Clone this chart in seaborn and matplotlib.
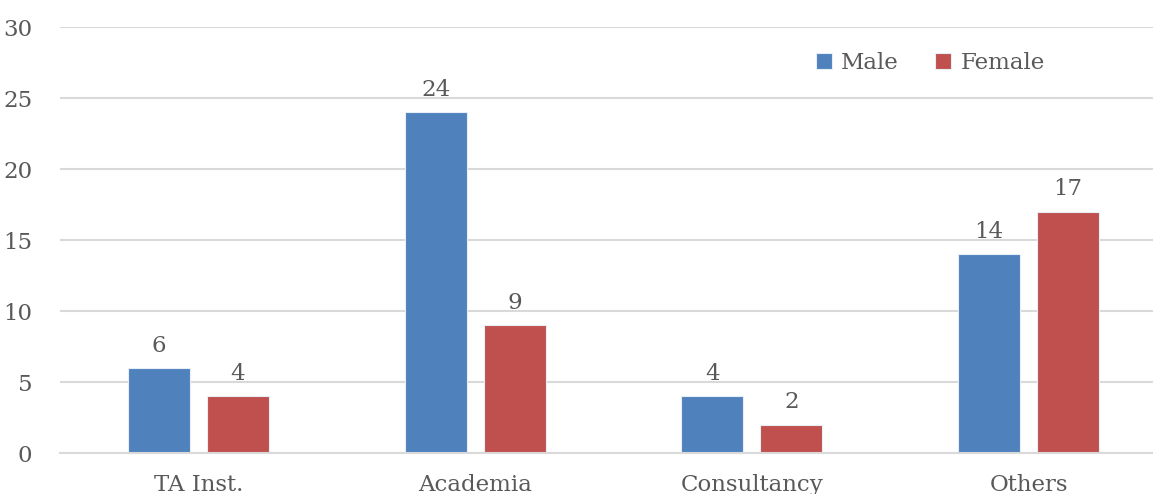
import matplotlib
matplotlib.use("Agg")
import matplotlib.pyplot as plt
import seaborn as sns
import pandas as pd

categories = ["TA Inst.", "Academia", "Consultancy", "Others"]
male = [6, 24, 4, 14]
female = [4, 9, 2, 17]
series = ["Male", "Female"]

df = pd.DataFrame({
    "Category": categories * 2,
    "Count": male + female,
    "Gender": ["Male"] * len(categories) + ["Female"] * len(categories),
})

sns.set_style("white")
plt.rcParams['font.family'] = ['DejaVu Serif']
text_col = "#595959"

fig = plt.figure(figsize=(11.53, 4.94), dpi=100)
ax = fig.add_axes([60 / 1153, (494 - 453) / 494, 1107 / 1153, 426 / 494])

sns.barplot(data=df, x="Category", y="Count", hue="Gender", hue_order=series,
            palette=["#4F81BD", "#C0504D"], width=0.571, gap=0.215,
            saturation=1, linewidth=0.8, edgecolor="#e8eef6",
            ax=ax, legend=True)

for cont in ax.containers:
    ax.bar_label(cont, padding=8, fontsize=16.5, color=text_col)

ax.set_ylim(0, 30)
ax.set_yticks(range(0, 31, 5))
ax.set_xlim(-0.5, 3.5)
ax.yaxis.grid(True, color="#d9d9d9", linewidth=1.5)
ax.set_axisbelow(True)
for s in ["top", "right", "left"]:
    ax.spines[s].set_visible(False)
ax.spines["bottom"].set_color("#d9d9d9")
ax.spines["bottom"].set_linewidth(1.5)
ax.tick_params(axis="y", length=0, pad=20, labelsize=16.5, labelcolor=text_col)
ax.tick_params(axis="x", length=0, pad=15, labelsize=16.5, labelcolor=text_col)
ax.set_xlabel("")
ax.set_ylabel("")

handles, labels = ax.get_legend_handles_labels()
ax.legend(handles, labels, loc="upper left", bbox_to_anchor=(0.664, 0.99),
          ncol=2, frameon=False, fontsize=16.5, handlelength=0.7, handleheight=0.7,
          columnspacing=1.6, handletextpad=0.4, labelcolor=text_col)

fig.savefig("out.png", dpi=100)
